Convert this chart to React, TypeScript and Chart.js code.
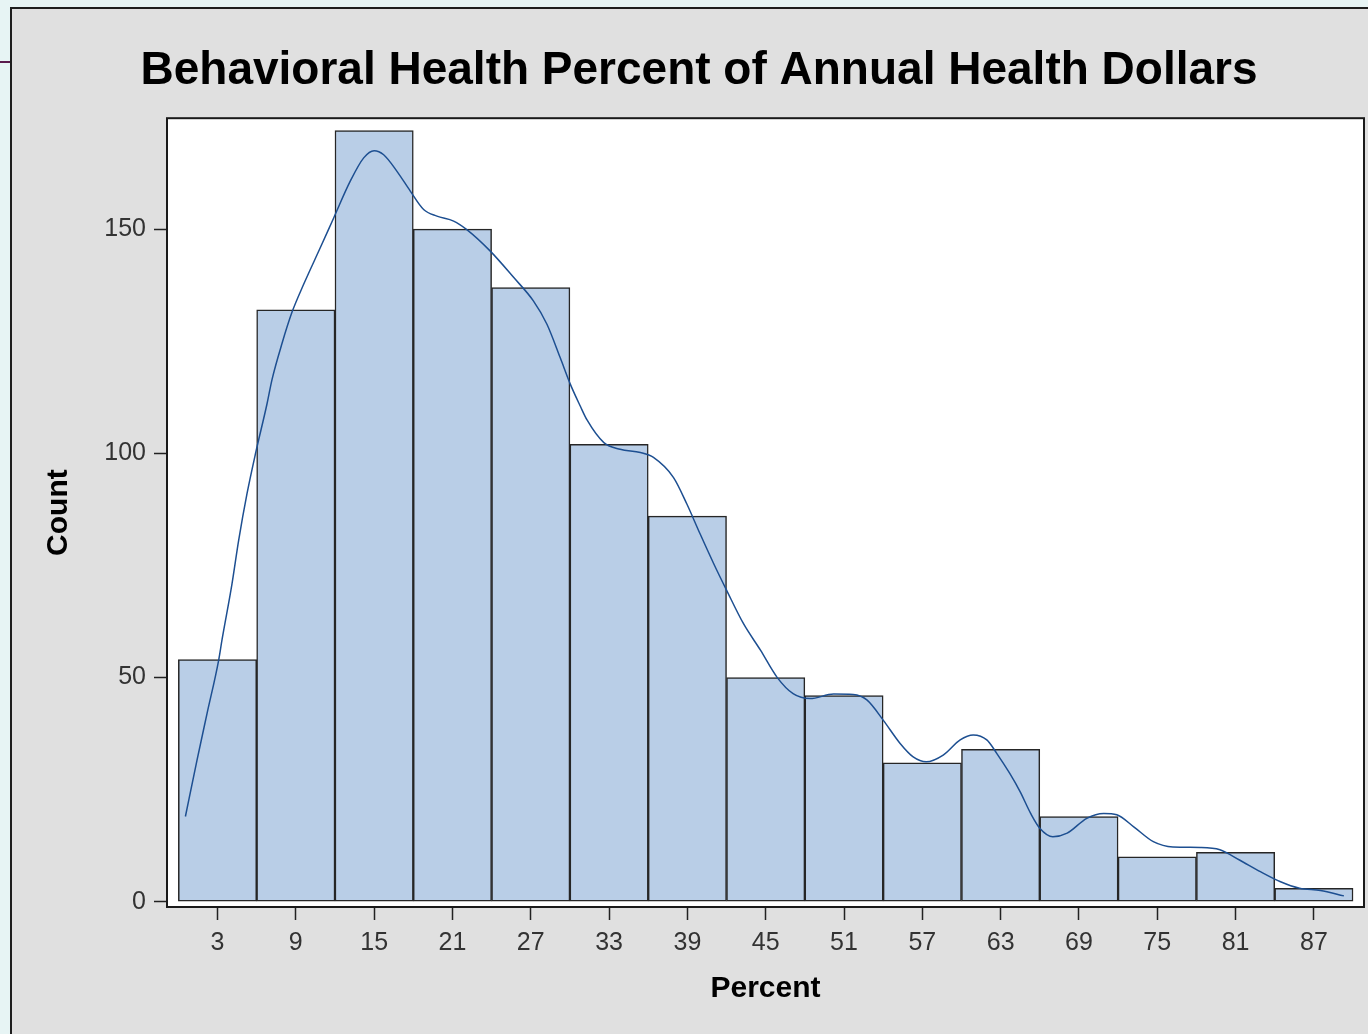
import React, { useEffect, useRef } from "react";
import { Chart, registerables } from "chart.js";

Chart.register(...registerables);

const TITLE = "Behavioral Health Percent of Annual Health Dollars";
const X_TITLE = "Percent";
const Y_TITLE = "Count";

// Histogram bins (midpoints) and counts
const BIN_MIDPOINTS = [3, 9, 15, 21, 27, 33, 39, 45, 51, 57, 63, 69, 75, 81, 87];
const BIN_COUNTS = [54, 132, 172, 150, 137, 102, 86, 50, 46, 31, 34, 19, 10, 11, 3];

// Kernel density curve (scaled to counts)
const DENSITY_X = [
  0.54, 1.43, 2.2, 3.09, 3.35, 4.11, 4.62, 5.26, 5.9, 6.79, 7.18, 7.94, 8.71, 9.6,
  10.88, 11.9, 13.17, 14.2, 15.0, 15.73, 16.75, 17.77, 18.79, 19.81, 21.09, 22.1,
  23.9, 25.7, 27.2, 28.24, 29.26, 30.02, 30.8, 31.3, 32.6, 33.85, 35.4, 36.4, 37.94,
  38.96, 39.98, 41.0, 42.0, 43.3, 44.6, 45.86, 47.1, 48.4, 50.2, 51.7, 52.75, 54.0,
  55.3, 56.3, 57.3, 58.6, 59.9, 60.9, 61.94, 62.7, 63.7, 64.5, 65.3, 66.0, 67.0,
  68.1, 69.6, 70.9, 71.9, 73.2, 74.7, 76.2, 78.3, 79.8, 81.3, 82.9, 84.4, 85.9,
  87.5, 89.3,
];
const DENSITY_Y = [
  19.0, 31.6, 42.0, 53.9, 58.5, 70.9, 80.6, 91.0, 99.8, 111.0, 116.5, 124.5, 131.5,
  137.7, 145.9, 152.5, 160.7, 165.9, 167.5, 166.6, 162.9, 158.5, 154.4, 152.9, 151.8,
  149.9, 145.1, 139.2, 134.0, 128.8, 121.3, 115.5, 110.5, 107.5, 102.4, 100.9, 100.2,
  99.1, 94.6, 88.7, 82.0, 75.5, 69.5, 62.0, 56.1, 50.1, 46.4, 45.3, 46.3, 46.2, 45.0,
  40.5, 35.3, 32.3, 31.2, 32.7, 36.1, 37.2, 36.1, 33.1, 28.6, 24.5, 19.7, 16.4, 14.5,
  15.3, 18.6, 19.7, 19.4, 16.7, 13.4, 12.2, 12.1, 11.6, 9.3, 6.7, 4.5, 3.0, 2.5, 1.3,
];

const X_TICKS = [3, 9, 15, 21, 27, 33, 39, 45, 51, 57, 63, 69, 75, 81, 87];
const Y_TICKS = [0, 50, 100, 150];

const FONT = "'Liberation Sans', Arial, Helvetica, sans-serif";

const plotFrame = {
  id: "plotFrame",
  beforeDraw(chart: any) {
    const { ctx, chartArea } = chart;
    ctx.save();
    ctx.fillStyle = "#ffffff";
    ctx.fillRect(chartArea.left, chartArea.top, chartArea.right - chartArea.left, chartArea.bottom - chartArea.top);
    ctx.restore();
  },
  afterDatasetsDraw(chart: any) {
    const { ctx, chartArea } = chart;
    ctx.save();
    ctx.strokeStyle = "#1a1a1a";
    ctx.lineWidth = 2;
    ctx.strokeRect(chartArea.left, chartArea.top, chartArea.right - chartArea.left, chartArea.bottom - chartArea.top);
    ctx.restore();
  },
};

export default function App() {
  const canvasRef = useRef<HTMLCanvasElement | null>(null);

  useEffect(() => {
    if (!canvasRef.current) return;
    const chart = new Chart(canvasRef.current, {
      type: "bar",
      data: {
        datasets: [
          {
            type: "line",
            data: DENSITY_X.map((x, i) => ({ x, y: DENSITY_Y[i] })),
            borderColor: "#1d4f91",
            borderWidth: 1.5,
            pointRadius: 0,
            cubicInterpolationMode: "monotone",
            fill: false,
            order: 0,
          } as any,
          {
            type: "bar",
            data: BIN_MIDPOINTS.map((x, i) => ({ x, y: BIN_COUNTS[i] })),
            backgroundColor: "#b9cee7",
            borderColor: "#262626",
            borderWidth: 1.5,
            borderSkipped: false,
            barPercentage: 1,
            categoryPercentage: 1,
            order: 1,
          } as any,
        ],
      },
      options: {
        animation: false,
        responsive: false,
        maintainAspectRatio: false,
        layout: { padding: { left: 22, right: 4, top: 0, bottom: 0 } },
        plugins: {
          legend: { display: false },
          tooltip: { enabled: false },
          title: {
            display: true,
            text: TITLE,
            color: "#000000",
            font: { family: FONT, size: 46, weight: "bold" },
            padding: { top: 35, bottom: 19 },
          },
        },
        scales: {
          x: {
            type: "linear",
            offset: false,
            min: -0.87,
            max: 90.84,
            afterBuildTicks: (scale: any) => {
              scale.ticks = X_TICKS.map((v) => ({ value: v }));
            },
            afterFit: (scale: any) => {
              scale.height = 127;
            },
            ticks: {
              color: "#333333",
              font: { family: FONT, size: 25 },
              padding: 8,
              maxRotation: 0,
              autoSkip: false,
            },
            grid: {
              display: true,
              offset: false,
              drawOnChartArea: false,
              drawTicks: true,
              tickLength: 13,
              tickColor: "#222222",
              tickWidth: 1.5,
            },
            border: { display: false },
            title: {
              display: true,
              text: X_TITLE,
              color: "#000000",
              font: { family: FONT, size: 30, weight: "bold" },
              padding: { top: 0, bottom: 27 },
            },
          },
          y: {
            type: "linear",
            min: -1.18,
            max: 174.75,
            afterBuildTicks: (scale: any) => {
              scale.ticks = Y_TICKS.map((v) => ({ value: v }));
            },
            afterFit: (scale: any) => {
              scale.width = 133;
            },
            ticks: {
              color: "#333333",
              font: { family: FONT, size: 25 },
              padding: 8,
            },
            grid: {
              display: true,
              drawOnChartArea: false,
              drawTicks: true,
              tickLength: 13,
              tickColor: "#222222",
              tickWidth: 1.5,
            },
            border: { display: false },
            title: {
              display: true,
              text: Y_TITLE,
              color: "#000000",
              font: { family: FONT, size: 30, weight: "bold" },
              padding: { top: 7, bottom: 0 },
            },
          },
        },
      } as any,
      plugins: [plotFrame],
    });
    return () => chart.destroy();
  }, []);

  return (
    <div
      style={{
        position: "fixed",
        left: 0,
        top: 0,
        width: 1368,
        height: 1034,
        background: "#e7f4f4",
        overflow: "hidden",
      }}
    >
      <div
        style={{
          position: "absolute",
          left: 0,
          top: 61,
          width: 11,
          height: 2,
          background: "#5a1a4c",
        }}
      />
      <div
        style={{
          position: "absolute",
          left: 10,
          top: 7,
          width: 1400,
          height: 1100,
          background: "#e0e0e0",
          borderLeft: "2px solid #1e1e1e",
          borderTop: "2px solid #1e1e1e",
        }}
      >
        <canvas
          ref={canvasRef}
          width={1356}
          height={1025}
          style={{ display: "block", width: 1356, height: 1025 }}
        />
      </div>
    </div>
  );
}
